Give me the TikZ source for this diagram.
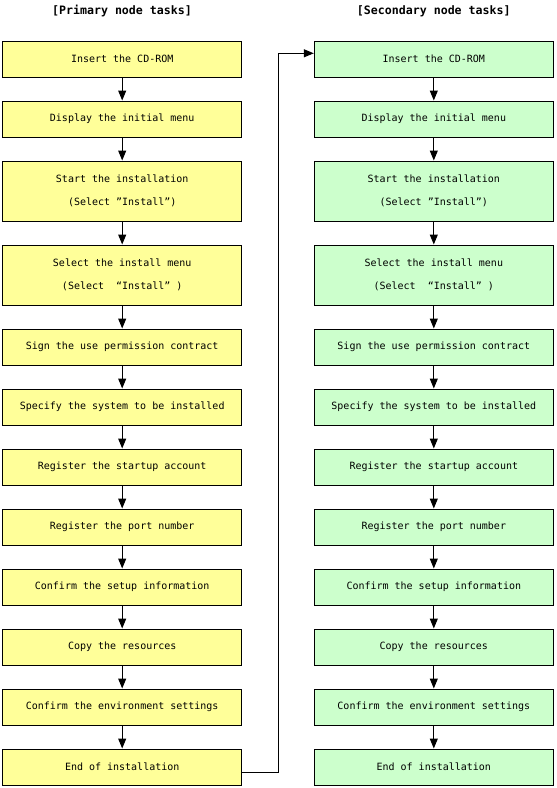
\documentclass[tikz,border=0pt]{standalone}
\usepackage{fontspec}
\setmonofont{DejaVu Sans Mono}
\usetikzlibrary{arrows.meta}
\definecolor{prim}{HTML}{FFFF99}
\definecolor{sec}{HTML}{CCFFCC}
\tikzset{
  task/.style={draw=black, line width=1pt, rectangle, minimum width=239pt, inner sep=0pt, align=center,
    font=\ttfamily\fontsize{10}{23}\selectfont},
  one/.style={task, minimum height=36pt},
  two/.style={task, minimum height=60pt},
  pbox/.style={fill=prim},
  sbox/.style={fill=sec},
  arr/.style={draw=black, line width=1pt, -{Triangle[width=8pt,length=10pt]}},
  head/.style={font=\ttfamily\bfseries\fontsize{11.6}{14}\selectfont, inner sep=0pt}
}
\begin{document}
\begin{tikzpicture}[x=1pt,y=-1pt]
\useasboundingbox (0,0) rectangle (557,788);
\node[head] (hp) at (122,11) {[Primary node tasks]};
\node[head] (hs) at (433.8,11) {[Secondary node tasks]};
% primary column
\node[one,pbox] (L1) at (122.2,59) {Insert the CD-ROM};
\node[one,pbox] (L2) at (122.2,119) {Display the initial menu};
\node[two,pbox] (L3) at (122.2,191) {Start the installation\\(Select ”Install”)};
\node[two,pbox] (L4) at (122.2,275) {Select the install menu\\(Select \ “Install”\ )};
\node[one,pbox] (L5) at (122.2,347) {Sign the use permission contract};
\node[one,pbox] (L6) at (122.2,407) {Specify the system to be installed};
\node[one,pbox] (L7) at (122.2,467) {Register the startup account};
\node[one,pbox] (L8) at (122.2,527) {Register the port number};
\node[one,pbox] (L9) at (122.2,587) {Confirm the setup information};
\node[one,pbox] (L10) at (122.2,647) {Copy the resources};
\node[one,pbox] (L11) at (122.2,707) {Confirm the environment settings};
\node[one,pbox] (L12) at (122.2,767) {End of installation};
% secondary column
\node[one,sbox] (R1) at (433.8,59) {Insert the CD-ROM};
\node[one,sbox] (R2) at (433.8,119) {Display the initial menu};
\node[two,sbox] (R3) at (433.8,191) {Start the installation\\(Select ”Install”)};
\node[two,sbox] (R4) at (433.8,275) {Select the install menu\\(Select \ “Install”\ )};
\node[one,sbox] (R5) at (433.8,347) {Sign the use permission contract};
\node[one,sbox] (R6) at (433.8,407) {Specify the system to be installed};
\node[one,sbox] (R7) at (433.8,467) {Register the startup account};
\node[one,sbox] (R8) at (433.8,527) {Register the port number};
\node[one,sbox] (R9) at (433.8,587) {Confirm the setup information};
\node[one,sbox] (R10) at (433.8,647) {Copy the resources};
\node[one,sbox] (R11) at (433.8,707) {Confirm the environment settings};
\node[one,sbox] (R12) at (433.8,767) {End of installation};
% arrows
\foreach \a/\b in {1/2,2/3,3/4,4/5,5/6,6/7,7/8,8/9,9/10,10/11,11/12}{
  \draw[arr] (L\a.south) -- (L\b.north);
  \draw[arr] (R\a.south) -- (R\b.north);
}
\coordinate (turn) at (278.3,772.7);
\draw[arr] ([yshift=-5.7pt]L12.east) -- (turn) |- ([yshift=5.7pt]R1.west);
\end{tikzpicture}
\end{document}
